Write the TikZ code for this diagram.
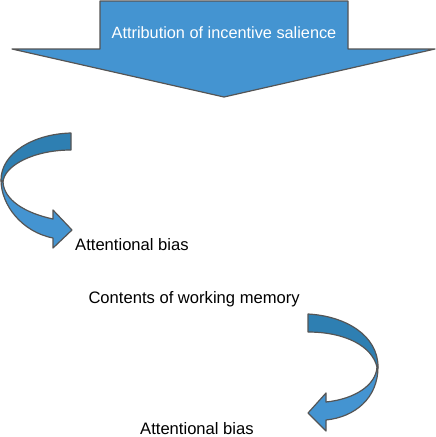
\documentclass[tikz,border=0pt]{standalone}
\usepackage{fontspec}
\setmainfont{Liberation Sans}
\definecolor{arrowlight}{HTML}{4494D1}
\definecolor{arrowdark}{HTML}{2E7FB2}
\definecolor{edgegray}{HTML}{555555}
\begin{document}
\begin{tikzpicture}[x=1pt,y=-1pt,
  arrowshape/.style={draw=edgegray,line width=1.2pt,line join=round},
  lbl/.style={inner sep=0pt,font=\fontsize{16.6}{20}\selectfont,anchor=base west}]
\useasboundingbox (0,0) rectangle (436,437);
% big down arrow
\draw[arrowshape,fill=arrowlight] (100,1) -- (348,1) -- (348,49) -- (435,49) -- (224,97) -- (12,49) -- (100,49) -- cycle;
\node[inner sep=0pt,text=white,font=\fontsize{16.3}{20}\selectfont] (top) at (224,33) {Attribution of incentive salience};
% left curved arrow: light front part
\draw[arrowshape,fill=arrowlight] (1,180) .. controls (1,205) and (22,232) .. (53,238)
  -- (53,248) -- (72,230) -- (53,210) -- (53,219)
  .. controls (25,213) and (4,200) .. (3,182) -- cycle;
% dark back part
\draw[arrowshape,fill=arrowdark] (71,133) .. controls (32,134) and (1,154) .. (1,180)
  -- (3,182) .. controls (4,166) and (33,150) .. (71,150) -- cycle;
% right curved arrow: light front part
\draw[arrowshape,fill=arrowlight] (378,367) .. controls (378,398) and (355,417) .. (326,420)
  -- (326,431) -- (308,413) -- (326,393) -- (326,402)
  .. controls (355,399) and (376,385) .. (377,367) -- cycle;
% dark back part
\draw[arrowshape,fill=arrowdark] (308,314) .. controls (345,316) and (378,335) .. (378,367)
  -- (377,367) .. controls (372,346) and (345,332) .. (308,332) -- cycle;
% labels
\node[lbl] (ab1) at (75,250.5) {Attentional bias};
\node[lbl] (cwm) at (88.3,303.3) {Contents of working memory};
\node[lbl] (ab2) at (140,434.5) {Attentional bias};
\end{tikzpicture}
\end{document}
